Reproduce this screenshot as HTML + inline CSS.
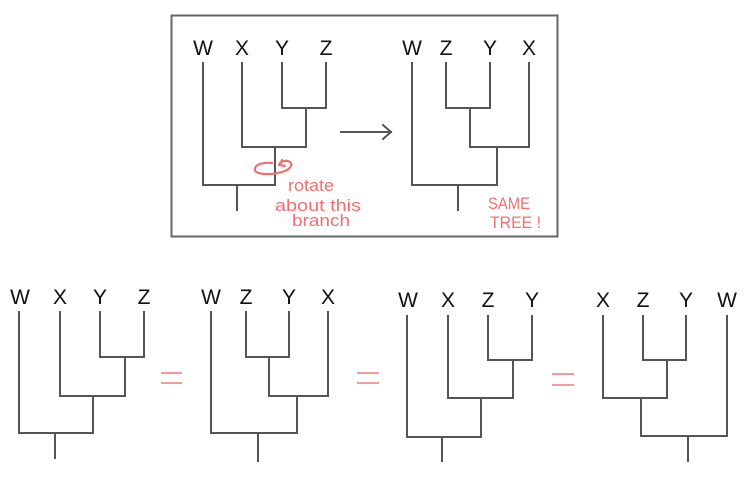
<!DOCTYPE html>
<html><head><meta charset="utf-8"><style>
html,body{margin:0;padding:0;background:#fff;}
svg{display:block;}
</style></head><body>
<svg width="755" height="484" viewBox="0 0 755 484" xmlns="http://www.w3.org/2000/svg">
<rect x="171.5" y="15.5" width="386" height="221" fill="none" stroke="#666" stroke-width="2"/>
<g stroke="#555" stroke-width="2" fill="none" stroke-linecap="square">
<path d="M203 63V185M242 63V147M282 63V108M326 63V108M282 108H326M306 108V147M242 147H306M275 147V185M203 185H275M237 185V210"/>
<path d="M341 132H391M383 125L391 132L383 139"/>
<path d="M412 63V185M446 63V108M490 63V108M446 108H490M470 108V147M529 63V147M470 147H529M497 147V185M412 185H497M458 185V210"/>
<path d="M19 312V433M60 312V396M100 312V357M144 312V357M100 357H144M125 357V396M60 396H125M93 396V433M19 433H93M55 433V458"/>
<path d="M211 312V433M246 312V357M289 312V357M246 357H289M269 357V396M328 312V396M269 396H328M297 396V433M211 433H297M258 433V461"/>
<path d="M407 316V437M448 316V398M488 316V360M532 316V360M488 360H532M513 360V398M448 398H513M481 398V437M407 437H481M442 437V461"/>
<path d="M603 316V398M643 316V360M686 316V360M643 360H686M667 360V398M603 398H667M641 398V436M727 316V436M641 436H727M688 436V461"/>
</g>
<g stroke="#f49a9a" stroke-width="2">
<path d="M161 373H182M161 383H182M357 373H379M357 383H379M552 374H574M552 385H574"/>
</g>
<g fill="#111" font-family="Liberation Sans, sans-serif" font-size="21" text-anchor="middle">
<text x="203" y="55">W</text><text x="242" y="55">X</text><text x="282" y="55">Y</text><text x="326" y="55">Z</text>
<text x="412" y="55">W</text><text x="446" y="55">Z</text><text x="490" y="55">Y</text><text x="529" y="55">X</text>
<text x="20" y="304">W</text><text x="60" y="304">X</text><text x="100" y="304">Y</text><text x="144" y="304">Z</text>
<text x="211" y="304">W</text><text x="246" y="304">Z</text><text x="289" y="304">Y</text><text x="328" y="304">X</text>
<text x="408" y="307">W</text><text x="448" y="307">X</text><text x="488" y="307">Z</text><text x="532" y="307">Y</text>
<text x="603" y="307">X</text><text x="643" y="307">Z</text><text x="686" y="307">Y</text><text x="727" y="307">W</text>
</g>
<path d="M272 163C262 162 254 165 255 170C256 175 272 175 282 172C292 169 294 163 288 161C284 160 280 162 279 165M282 160L280 165L285 166" stroke="#f07070" stroke-width="2.2" fill="none" stroke-linecap="round"/>
<g fill="#f07070" font-family="Liberation Sans, sans-serif" font-size="17">
<text x="288" y="191" textLength="46" lengthAdjust="spacingAndGlyphs">rotate</text>
<text x="275" y="211" textLength="86" lengthAdjust="spacingAndGlyphs">about this</text>
<text x="292" y="226" textLength="58" lengthAdjust="spacingAndGlyphs">branch</text>
<text x="488" y="209" textLength="42" lengthAdjust="spacingAndGlyphs">SAME</text>
<text x="490" y="228" textLength="51" lengthAdjust="spacingAndGlyphs">TREE !</text>
</g>
</svg>
</body></html>
